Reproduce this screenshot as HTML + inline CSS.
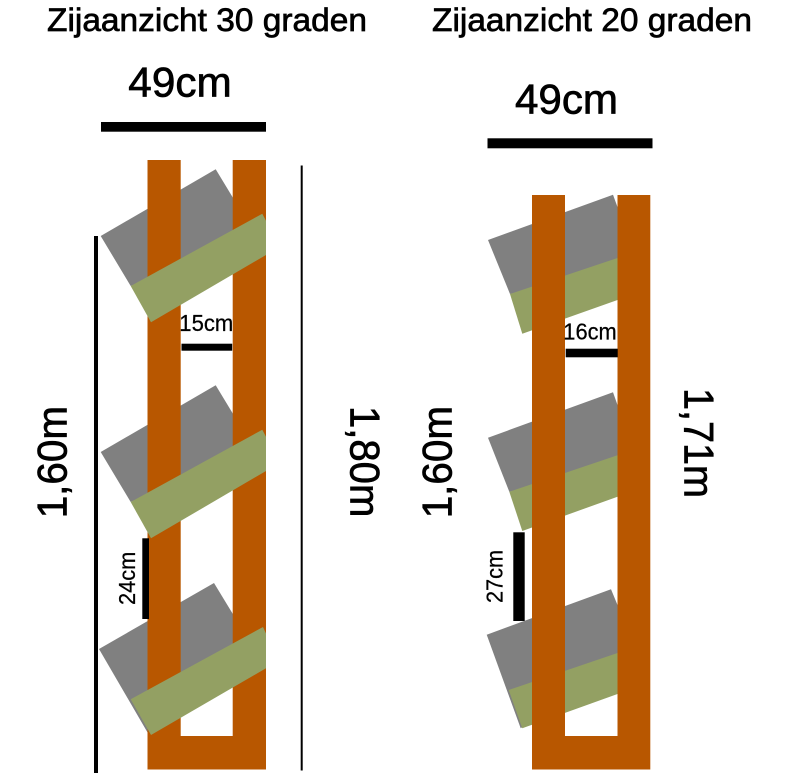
<!DOCTYPE html>
<html>
<head>
<meta charset="utf-8">
<style>
html,body{margin:0;padding:0;background:#fff}
svg{display:block}
text{font-family:"Liberation Sans",sans-serif;fill:#000;stroke:#000;stroke-width:.7}
text.s{stroke-width:.25}
</style>
</head>
<body>
<svg width="800" height="773" viewBox="0 0 800 773" xmlns="http://www.w3.org/2000/svg">
<rect width="800" height="773" fill="#fff"/>

<!-- Left: grey boards -->
<g fill="#808080">
<polygon points="100.7,236 215.7,169.3 247,221 250,235 130.7,286"/>
<polygon points="100.7,452 215.7,385.3 247,437 250,451 130.7,502"/>
<polygon points="99,649 214,583 245,634 149,735"/>
</g>
<!-- Left: posts -->
<path fill="#b85700" d="M147.5 160H180.7V736H232.7V160H266V769.5H147.5Z"/>
<!-- Left: green boards -->
<g fill="#93a063">
<polygon points="130.7,286 262.3,213.7 266,220.7 266,255 151,322.3"/>
<polygon points="130.7,502 262.3,429.7 266,436.7 266,471 151,538.3"/>
<polygon points="130.7,699.3 263,627 266,633.5 266,668.3 151,735"/>
</g>

<!-- Right: grey and green boards -->
<g fill="#808080">
<polygon points="488,240 613,194.7 617.5,207 617.5,270 510,294"/>
<polygon points="488,437.7 613,392.3 617.5,405 617.5,467 509.3,491.7"/>
<polygon points="486.7,634.7 611,589.3 617.5,605 617.5,665 520.7,728.3"/>
</g>
<g fill="#93a063">
<polygon points="510,294 617.5,258 617.5,300 522.3,333.7"/>
<polygon points="509.3,491.7 617.5,455.3 617.5,496.7 522.3,531"/>
<polygon points="508.7,690 617.5,653 617.5,694 522.3,728.3"/>
</g>
<!-- Right: posts -->
<path fill="#b85700" d="M532 195H565V736H617.5V195H650.3V769.5H532Z"/>

<!-- Black bars and lines -->
<g fill="#000">
<rect x="101" y="122" width="165" height="9.7"/>
<rect x="487.5" y="138.3" width="165" height="10"/>
<rect x="94" y="236" width="4" height="537"/>
<rect x="300.7" y="165.5" width="2" height="605"/>
<rect x="181.5" y="343.7" width="50.7" height="7"/>
<rect x="565.7" y="348.7" width="52" height="8.6"/>
<rect x="142.3" y="538.3" width="6.7" height="80.7"/>
<rect x="513.3" y="532.3" width="11.4" height="88.7"/>
</g>

<!-- Titles -->
<text x="47" y="31" font-size="32.5" textLength="320" lengthAdjust="spacingAndGlyphs">Zijaanzicht 30 graden</text>
<text x="432" y="31" font-size="32.5" textLength="320" lengthAdjust="spacingAndGlyphs">Zijaanzicht 20 graden</text>

<!-- Width labels -->
<text x="128.3" y="96.7" font-size="42" textLength="103.4" lengthAdjust="spacingAndGlyphs">49cm</text>
<text x="515" y="113.3" font-size="42" textLength="103" lengthAdjust="spacingAndGlyphs">49cm</text>

<!-- Gap labels -->
<text class="s" x="179.3" y="331" font-size="23" textLength="54" lengthAdjust="spacingAndGlyphs">15cm</text>
<text class="s" x="563.3" y="339.3" font-size="23" textLength="53.4" lengthAdjust="spacingAndGlyphs">16cm</text>

<!-- Rotated labels -->
<text transform="translate(66.7 518.3) rotate(-90)" font-size="42" textLength="112.3" lengthAdjust="spacingAndGlyphs">1,60m</text>
<text transform="translate(451.7 518.3) rotate(-90)" font-size="42" textLength="112.3" lengthAdjust="spacingAndGlyphs">1,60m</text>
<text transform="translate(350.7 406) rotate(90)" font-size="42" textLength="111.3" lengthAdjust="spacingAndGlyphs">1,80m</text>
<text transform="translate(684.3 388) rotate(90)" font-size="42" textLength="110" lengthAdjust="spacingAndGlyphs">1,71m</text>
<text class="s" transform="translate(135 605) rotate(-90)" font-size="23" textLength="53.3" lengthAdjust="spacingAndGlyphs">24cm</text>
<text class="s" transform="translate(502.3 603) rotate(-90)" font-size="23" textLength="53" lengthAdjust="spacingAndGlyphs">27cm</text>
</svg>
</body>
</html>
